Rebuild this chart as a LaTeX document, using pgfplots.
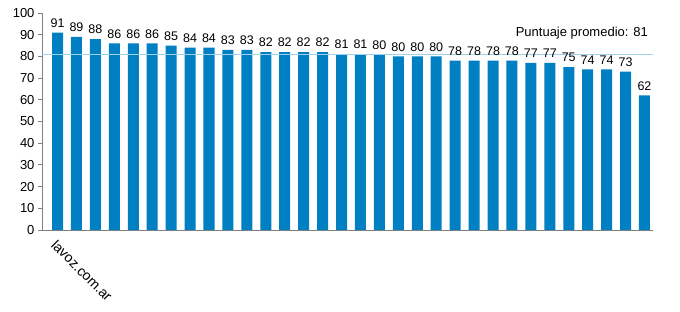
\documentclass[border=0pt]{standalone}
\usepackage{pgfplots}
\pgfplotsset{compat=1.18}
\usepackage{fontspec}
\setmainfont{Liberation Sans}
\definecolor{barblue}{RGB}{0,128,194}
\definecolor{avgblue}{RGB}{160,208,234}
\definecolor{axgray}{RGB}{128,128,128}
\begin{document}
\begin{tikzpicture}
\path[use as bounding box] (-42pt,-82pt) rectangle (638pt,230pt);
\begin{axis}[
 at={(0pt,0pt)}, anchor=south west,
 scale only axis, width=611pt, height=217pt,
 xmin=-0.82, xmax=31.45, ymin=0, ymax=100,
 axis x line*=bottom, axis y line*=left,
 axis line style={axgray, -, line width=0.8pt},
 ytick={0,10,...,100},
 ytick style={axgray, line width=0.8pt},
 tick align=outside, major tick length=4pt,
 xtick={0}, xticklabels={lavoz.com.ar},
 xtick style={draw=none},
 x tick label style={rotate=-45, anchor=north west, xshift=0pt, font=\fontsize{14}{16}\selectfont},
 y tick label style={font=\fontsize{13}{15}\selectfont},
 /pgf/number format/assume math mode=true,
 clip=false,
]
\addplot[ybar, bar width=11pt, fill=barblue, draw=none,
  nodes near coords, point meta=explicit symbolic,
  every node near coord/.style={font=\fontsize{12.5}{14}\selectfont, inner sep=0pt, anchor=south, yshift=5pt, text=black}]
 table[meta=l] {
x y l
0 91 91
1 89 89
2 88 88
3 86 86
4 86 86
5 86 86
6 85 85
7 84 84
8 84 84
9 83 83
10 83 83
11 82 82
12 82 82
13 82 82
14 82 82
15 81 81
16 81 81
17 80.7 80
18 80 80
19 80 80
20 80 80
21 78 78
22 78 78
23 78 78
24 78 78
25 77 77
26 77 77
27 75 75
28 74 74
29 74 74
30 73 73
31 62 62
};
\addplot[avgblue, line width=1pt] coordinates {(-0.82,81) (31.45,81)};
\node[anchor=base east, font=\fontsize{13}{15}\selectfont, inner sep=0pt] at ([xshift=-5pt,yshift=18pt]axis cs:31.45,81) {Puntuaje promedio: 81};
\end{axis}
\end{tikzpicture}
\end{document}
